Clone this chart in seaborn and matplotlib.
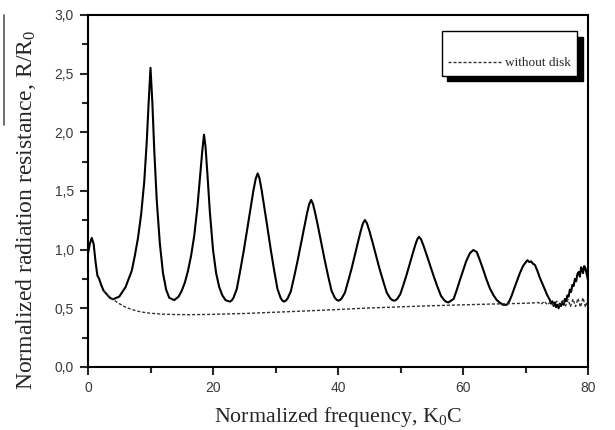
import numpy as np
import pandas as pd
import matplotlib
matplotlib.use("Agg")
import matplotlib.pyplot as plt
import seaborn as sns
from matplotlib.lines import Line2D

# ---- data ----
x_disk = [0.0, 0.3, 0.6, 0.9, 1.2, 1.5, 1.8, 2.1, 2.5, 3.0, 3.5, 4.0,
          5.0, 6.0, 7.0, 7.5, 8.0, 8.5, 9.0, 9.4, 9.7, 10.0, 10.3, 10.6, 11.0, 11.5, 12.0, 12.5, 13.0, 13.8,
          14.5, 15.0, 15.5, 16.0, 16.5, 17.0, 17.5, 18.0, 18.3, 18.56, 18.8, 19.1, 19.5, 20.0, 20.5, 21.0, 21.5, 22.0, 22.7,
          23.01, 23.28, 23.81, 24.35, 24.93, 25.55, 26.04, 26.48, 26.84, 27.15,
          27.44, 27.78, 28.20, 28.67, 29.26, 29.80, 30.31, 30.81, 31.07, 31.36,
          31.66, 31.92, 32.45, 32.97, 33.53, 34.14, 34.62, 35.05, 35.40, 35.7,
          36.00, 36.35, 36.79, 37.27, 37.88, 38.44, 38.96, 39.48, 39.75, 40.05,
          40.35, 40.60, 41.11, 41.62, 42.18, 42.77, 43.24, 43.66, 44.00, 44.3,
          44.63, 45.00, 45.47, 45.98, 46.63, 47.24, 47.80, 48.35, 48.63, 48.96,
          49.24, 49.48, 49.96, 50.44, 50.96, 51.52, 51.96, 52.36, 52.68, 52.96,
          53.29, 53.66, 54.13, 54.65, 55.31, 55.91, 56.48, 57.04, 57.32, 57.65,
          58.5, 59.0, 59.5, 60.0, 60.5, 61.1, 61.65, 62.2, 62.7, 63.25, 63.8, 64.3, 64.85, 65.4, 65.9, 66.4, 67.0,
          67.4, 67.8, 68.4, 69.1, 69.6, 70.0, 70.3, 70.6, 70.9, 71.2, 71.5, 71.9, 72.3, 72.7, 73.1, 73.5, 73.9,
          74.1, 74.3, 74.5, 74.7, 74.9, 75.1, 75.3, 75.5, 75.7, 75.9, 76.1, 76.3, 76.5, 76.7, 76.9, 77.1, 77.3,
          77.5, 77.7, 77.9, 78.1, 78.3, 78.5, 78.7, 78.9, 79.1, 79.2, 79.4, 79.6, 79.8, 80.0]
r_disk = [0.97, 1.05, 1.10, 1.05, 0.90, 0.78, 0.75, 0.70, 0.65, 0.62, 0.59, 0.577,
          0.60, 0.68, 0.82, 0.95, 1.10, 1.30, 1.58, 1.92, 2.25, 2.55, 2.25, 1.85, 1.42, 1.05, 0.80, 0.66, 0.59, 0.57,
          0.60, 0.65, 0.72, 0.82, 0.95, 1.12, 1.36, 1.66, 1.85, 1.98, 1.88, 1.65, 1.32, 1.00, 0.80, 0.68, 0.61, 0.57, 0.557,
          0.568, 0.590, 0.666, 0.819, 0.994, 1.202, 1.366, 1.508, 1.606, 1.65,
          1.606, 1.508, 1.366, 1.202, 0.994, 0.819, 0.666, 0.590, 0.568, 0.557,
          0.566, 0.583, 0.644, 0.765, 0.904, 1.069, 1.199, 1.311, 1.389, 1.424,
          1.390, 1.312, 1.201, 1.072, 0.909, 0.771, 0.651, 0.591, 0.574, 0.565,
          0.572, 0.586, 0.634, 0.730, 0.840, 0.971, 1.074, 1.164, 1.225, 1.253,
          1.225, 1.164, 1.074, 0.971, 0.840, 0.730, 0.634, 0.586, 0.572, 0.565,
          0.570, 0.581, 0.620, 0.696, 0.783, 0.887, 0.968, 1.039, 1.088, 1.11,
          1.088, 1.037, 0.964, 0.880, 0.774, 0.684, 0.606, 0.567, 0.556, 0.55,
          0.58, 0.656, 0.74, 0.82, 0.90, 0.97, 0.997, 0.98, 0.91, 0.827, 0.74, 0.67, 0.614, 0.57, 0.548, 0.53, 0.53,
          0.56, 0.61, 0.70, 0.80, 0.86, 0.89, 0.91, 0.895, 0.90, 0.88, 0.87, 0.82, 0.76, 0.71, 0.66, 0.61, 0.57,
          0.54, 0.56, 0.52, 0.55, 0.51, 0.53, 0.50, 0.54, 0.52, 0.56, 0.53, 0.58, 0.56, 0.61, 0.60, 0.66, 0.64,
          0.70, 0.69, 0.75, 0.73, 0.79, 0.81, 0.77, 0.85, 0.83, 0.80, 0.86, 0.84, 0.79, 0.74]

x_nodisk = [2.5, 3.0, 3.5, 4.0, 5.0, 6.0, 7.0, 8.0, 9.0, 10.0, 12.0, 14.0, 16.0, 18.0, 20.0, 25.0, 30.0,
            35.0, 40.0, 45.0, 50.0, 55.0, 60.0, 65.0, 70.0, 71.0, 72.0, 72.5, 73.0, 73.5, 74.0, 74.5, 75.0,
            75.5, 76.0, 76.4, 76.8, 77.2, 77.6, 78.0, 78.4, 78.8, 79.2, 79.6, 80.0]
r_nodisk = [0.65, 0.62, 0.595, 0.575, 0.54, 0.51, 0.49, 0.475, 0.465, 0.458, 0.450, 0.447, 0.446, 0.447, 0.449, 0.456, 0.467,
            0.478, 0.490, 0.503, 0.513, 0.522, 0.530, 0.537, 0.543, 0.545, 0.55, 0.535, 0.56, 0.53, 0.555, 0.53, 0.56,
            0.52, 0.57, 0.52, 0.575, 0.515, 0.58, 0.515, 0.585, 0.51, 0.59, 0.51, 0.585]

x_ticks = [0, 20, 40, 60, 80]
y_ticks = [0.0, 0.5, 1.0, 1.5, 2.0, 2.5, 3.0]
y_tick_labels = ["0,0", "0,5", "1,0", "1,5", "2,0", "2,5", "3,0"]

df_disk = pd.DataFrame({"x": x_disk, "r": r_disk})
df_nodisk = pd.DataFrame({"x": x_nodisk, "r": r_nodisk})

sns.set_theme(style="ticks")
plt.rcParams["font.family"] = ["Liberation Sans", "DejaVu Sans"]
plt.rcParams["mathtext.fontset"] = "custom"
plt.rcParams["mathtext.rm"] = "Liberation Serif"
plt.rcParams["mathtext.it"] = "Liberation Serif:italic"

fig = plt.figure(figsize=(6.15, 4.30), dpi=100)
ax = fig.add_axes([88/615, 63/430, 500/615, 352/430])

sns.lineplot(data=df_disk, x="x", y="r", ax=ax, color="black", linewidth=1.5,
             sort=False, estimator=None, legend=False)
sns.lineplot(data=df_nodisk, x="x", y="r", ax=ax, color="#333333", linewidth=1.0,
             linestyle=(0, (2.2, 1.4)), sort=False, estimator=None, legend=False)

ax.set_xlim(0, 80)
ax.set_ylim(0, 3.0)
ax.set_xticks(x_ticks)
ax.set_xticks([10, 30, 50, 70], minor=True)
ax.set_yticks(y_ticks)
ax.set_yticklabels(y_tick_labels)
ax.set_yticks([0.25, 0.75, 1.25, 1.75, 2.25, 2.75], minor=True)
ax.tick_params(which="major", direction="out", length=6, width=1.5, labelsize=10,
               labelcolor="#3a3a3a", pad=4)
ax.tick_params(which="minor", direction="out", length=4, width=1.5)
for s in ax.spines.values():
    s.set_linewidth(1.5)
    s.set_color("black")

ax.set_xlabel("Normalized frequency, K$_0$C", fontsize=15.8, family="Liberation Serif", labelpad=7)
ax.set_ylabel("Normalized radiation resistance, R/R$_0$", fontsize=17, family="Liberation Serif")
ax.yaxis.set_label_coords(-0.10, 0.446)

handles = [Line2D([], [], linestyle="none"),
           Line2D([], [], color="#333333", linewidth=1.0, linestyle=(0, (2.2, 1.4)))]
leg = ax.legend(handles, [" ", "without disk"], loc="upper right", bbox_to_anchor=(0.992, 0.972),
                frameon=True, fancybox=False, edgecolor="black", framealpha=1,
                shadow={"color": "black", "alpha": 1, "ox": 4, "oy": -4},
                prop={"family": "Liberation Serif", "size": 9.5},
                handlelength=4.0, handletextpad=0.3, borderpad=0.5, labelspacing=0.5)
leg.get_frame().set_linewidth(1.0)

fig.add_artist(Line2D([3.5/615, 3.5/615], [1 - 15/430, 1 - 125/430], color="#555555", linewidth=1.2))

fig.savefig("out.png", dpi=100)
